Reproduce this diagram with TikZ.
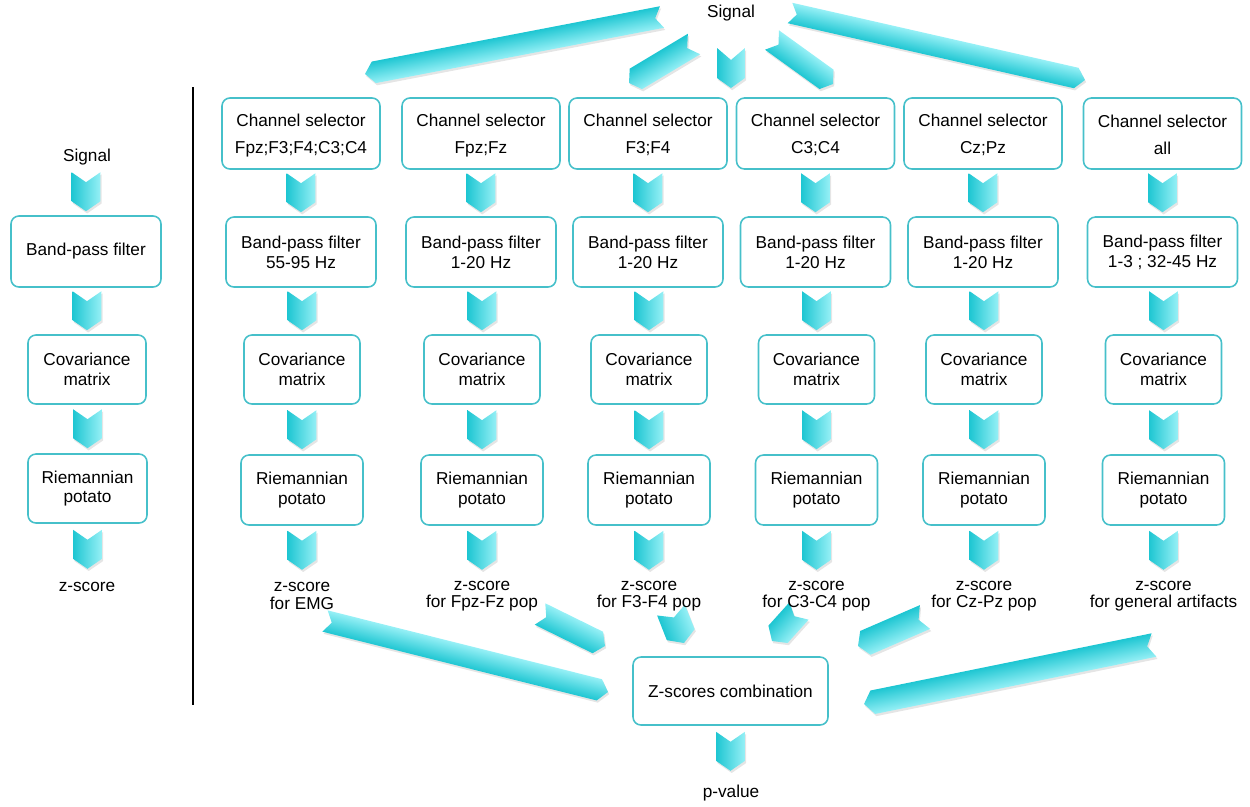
\documentclass[tikz,border=0pt]{standalone}
\usepackage{fontspec}
\setmainfont{Liberation Sans}
\usetikzlibrary{calc}
\pgfdeclarelayer{background}
\pgfsetlayers{background,main}
\definecolor{cdark}{RGB}{30,198,210}
\definecolor{clight}{RGB}{150,240,246}
\definecolor{boxc}{RGB}{70,192,202}

% block arrow: tail, head, half width, tip length, notch depth (all in px)
\newcommand\barrow[5]{%
  \path let \p1=($(#2)-(#1)$), \n1={atan2(\y1,\x1)}, \n2={veclen(\x1,\y1)} in
    \pgfextra{\xdef\barang{\n1}\xdef\barlen{\n2}};
  \pgfmathsetmacro\barA{\barang}%
  \pgfmathsetmacro\barL{\barlen}%
  \pgfmathsetmacro\barh{#3*0.5669}%
  \pgfmathsetmacro\bart{#4*0.5669}%
  \pgfmathsetmacro\barn{#5*0.5669}%
  \pgfmathsetmacro\barb{\barL-\bart}%
  \begin{scope}[transform canvas={shift={($(#1)+(1.2,2.2)$)},rotate=\barA}]
    \fill[black,opacity=0.10] (0pt,\barh pt) -- (\barb pt,\barh pt) -- (\barL pt,0pt) -- (\barb pt,-\barh pt) -- (0pt,-\barh pt) -- (\barn pt,0pt) -- cycle;
  \end{scope}
  \begin{scope}[transform canvas={shift={(#1)},rotate=\barA}]
    \shade[top color=clight,bottom color=cdark] (0pt,\barh pt) -- (\barb pt,\barh pt) -- (\barL pt,0pt) -- (\barb pt,-\barh pt) -- (0pt,-\barh pt) -- (\barn pt,0pt) -- cycle;
  \end{scope}
}
\newcommand\chev[1]{%
  \coordinate (cht) at #1;
  \coordinate (chh) at ($(cht)+(0,39)$);
  \barrow{cht}{chh}{14.5}{10}{10}%
}

\tikzset{
  rbox/.style={draw=boxc, line width=0.9pt, rounded corners=4.5pt, align=center, inner sep=0pt, fill=white},
  chanbox/.style={rbox, minimum width=3.16cm, minimum height=1.42cm},
  bpbox/.style={rbox, minimum width=3cm, minimum height=1.4cm},
  covbox/.style={rbox, minimum width=2.32cm, minimum height=1.38cm},
  riembox/.style={rbox, minimum width=2.44cm, minimum height=1.4cm},
  lbl/.style={align=center, inner sep=0pt, font=\fontsize{9.8pt}{10pt}\selectfont},
}

\begin{document}
\begin{tikzpicture}[x=0.02cm,y=-0.02cm,
  every node/.style={font=\fontsize{9.8pt}{11.3pt}\selectfont}]
\useasboundingbox (0,0) rectangle (1250,806);

% ---------- left column ----------
\node[lbl] (ls) at (87,157) {Signal};
\node[rbox, minimum width=3cm, minimum height=1.42cm] (lbp) at (86,251.5) {Band-pass filter};
\node[rbox, minimum width=2.36cm, minimum height=1.38cm] (lcov) at (87,369.5) {Covariance\\matrix};
\node[rbox, minimum width=2.38cm, minimum height=1.38cm] (lriem) at (87.5,488.5) {Riemannian\\potato};
\node[lbl] (lz) at (87,587) {z-score};

\coordinate (sepT) at (193,87);
\coordinate (sepB) at (193,705);
\draw[line width=0.6pt] (sepT) -- (sepB);

% ---------- main columns ----------
\node[lbl] (sig) at (731,13) {Signal};
\foreach \i/\x/\ch/\bp/\zs in {
  1/301/Fpz;F3;F4;C3;C4/55-95 Hz/for EMG,
  2/481/Fpz;Fz/1-20 Hz/for Fpz-Fz pop,
  3/648/F3;F4/1-20 Hz/for F3-F4 pop,
  4/815.5/C3;C4/1-20 Hz/for C3-C4 pop,
  5/983/Cz;Pz/1-20 Hz/for Cz-Pz pop,
  6/1162.5/all/1-3 ; 32-45 Hz/for general artifacts}{
  \node[chanbox] (c\i) at (\x,133.5) {\rule{0pt}{9pt}Channel selector\\[4pt]\ch};
  \node[bpbox] (b\i) at (\x,252) {Band-pass filter\\\bp};
  \node[covbox] (v\i) at (\x+1,369.5) {Covariance\\matrix};
  \node[riembox] (r\i) at (\x+1,490) {Riemannian\\potato};
  \node[lbl] (z\i) at (\x+1,596) {z-score\\\zs};
  \begin{pgfonlayer}{background}
    \chev{($(b\i.north)+(0,-43)$)}
    \chev{($(v\i.north)+(0,-43)$)}
    \chev{($(r\i.north)+(0,-44)$)}
    \chev{($(r\i.south)+(0,5)$)}
  \end{pgfonlayer}
}

\node[rbox, minimum width=3.9cm, minimum height=1.36cm] (comb) at (730.5,691) {Z-scores combination};
\node[lbl] (pv) at (731,793) {p-value};

% arrow end points
\coordinate (ta1) at (662,17);   \coordinate (ha1) at (365,74);
\coordinate (ta2) at (694,44);   \coordinate (ha2) at (629,83);
\coordinate (ta3) at (731,48);   \coordinate (ha3) at (731,88);
\coordinate (ta4) at (772,40);   \coordinate (ha4) at (833,84);
\coordinate (ta5) at (790,13);   \coordinate (ha5) at (1085,80);
\coordinate (tb1) at (325,621);  \coordinate (hb1) at (608,692);
\coordinate (tb2) at (540,614);  \coordinate (hb2) at (605,646);
\coordinate (tb3) at (671,610);  \coordinate (hb3) at (684,643);
\coordinate (tb4) at (799,611);  \coordinate (hb4) at (772,641);
\coordinate (tb5) at (925,617);  \coordinate (hb5) at (858,646);
\coordinate (tb6) at (1154,645); \coordinate (hb6) at (864,704);

\begin{pgfonlayer}{background}
  \chev{($(lbp.north)+(0,-43)$)}
  \chev{($(lcov.north)+(0,-43)$)}
  \chev{($(lriem.north)+(0,-44)$)}
  \chev{($(lriem.south)+(0,6)$)}
  \chev{($(comb.south)+(0,6)$)}
  \barrow{ta1}{ha1}{11}{9}{7}
  \barrow{ta2}{ha2}{12}{8}{8}
  \barrow{ta3}{ha3}{14}{10}{12}
  \barrow{ta4}{ha4}{12}{8}{8}
  \barrow{ta5}{ha5}{10.5}{9}{7}
  \barrow{tb1}{hb1}{11}{9}{7}
  \barrow{tb2}{hb2}{12}{8}{7}
  \barrow{tb3}{hb3}{15}{9}{8}
  \barrow{tb4}{hb4}{13}{9}{7}
  \barrow{tb5}{hb5}{13}{8}{7}
  \barrow{tb6}{hb6}{12}{9}{7}
\end{pgfonlayer}
\end{tikzpicture}
\end{document}
